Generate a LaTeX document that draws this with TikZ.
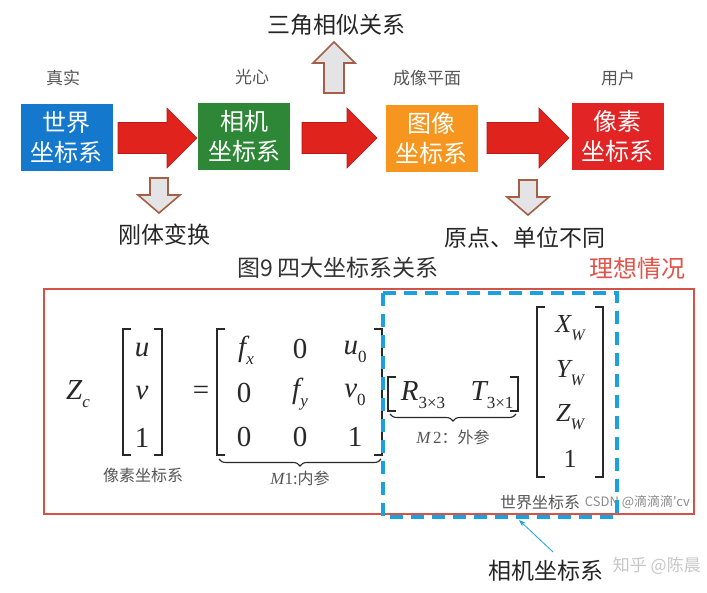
\documentclass[tikz,border=0pt]{standalone}
\usepackage{fontspec}
\newfontfamily\cjk{Noto Sans CJK SC}
\newfontfamily\tnr{Liberation Serif}
\usetikzlibrary{calc,decorations.pathreplacing,arrows.meta}
\definecolor{boxblue}{RGB}{20,120,205}
\definecolor{boxgreen}{RGB}{45,135,55}
\definecolor{boxorange}{RGB}{246,150,30}
\definecolor{boxred}{RGB}{226,36,36}
\definecolor{arrred}{RGB}{225,35,30}
\definecolor{arredge}{RGB}{180,28,25}
\definecolor{hollowedge}{RGB}{165,95,70}
\definecolor{hollowfill}{RGB}{228,228,230}
\definecolor{framered}{RGB}{214,82,70}
\definecolor{dashblue}{RGB}{27,162,222}
\definecolor{idealred}{RGB}{224,84,74}
\definecolor{notegray}{RGB}{85,85,85}
\definecolor{mathgray}{RGB}{40,40,40}
\newcommand{\fsz}[1]{\fontsize{#1}{#1}\selectfont}
\newcommand{\msub}[2]{{#1}\raisebox{-0.28em}{\fsz{17}#2}}
\newcommand{\wsub}[2]{{#1}\raisebox{-0.28em}{\fsz{16}#2}}
\newcommand{\redarrow}[3]{% start x, tip x, centre y
  \filldraw[arrred, draw=arredge, line width=0.6pt]
    (#1,#3-15.5) -- (#2-30,#3-15.5) -- (#2-30,#3-30) -- (#2,#3)
    -- (#2-30,#3+30) -- (#2-30,#3+15.5) -- (#1,#3+15.5) -- cycle;}
\newcommand{\downhollow}[3]{% centre x, top y, tip y
  \filldraw[fill=hollowfill, draw=hollowedge, line width=1.6pt, line join=miter]
    (#1-9,#2) -- (#1+9,#2) -- (#1+9,#3-18) -- (#1+21,#3-18) -- (#1,#3)
    -- (#1-21,#3-18) -- (#1-9,#3-18) -- cycle;}
\newcommand{\uphollow}[3]{% centre x, bottom y, tip y
  \filldraw[fill=hollowfill, draw=hollowedge, line width=1.6pt, line join=miter]
    (#1-10,#2) -- (#1+10,#2) -- (#1+10,#3+21) -- (#1+21,#3+21) -- (#1,#3)
    -- (#1-21,#3+21) -- (#1-10,#3+21) -- cycle;}
\newcommand{\mbrk}[4]{% left x, right x, top y, bottom y
  \draw[brk] (#1+8,#3) -- (#1,#3) -- (#1,#4) -- (#1+8,#4);
  \draw[brk] (#2-8,#3) -- (#2,#3) -- (#2,#4) -- (#2-8,#4);}
\begin{document}
\begin{tikzpicture}[x=1pt,y=-1pt,
  cbox/.style={minimum width=92pt, minimum height=67pt, inner sep=0pt,
    text=white, align=center, font=\cjk\fontsize{24}{30}\selectfont},
  toplabel/.style={text=notegray, font=\cjk\fsz{17}, inner sep=0pt},
  bigtext/.style={text=black!85, font=\cjk\fsz{23}, inner sep=0pt},
  mathent/.style={text=mathgray, font=\tnr\fsz{29}, inner sep=0pt},
  wmath/.style={text=mathgray, font=\tnr\fsz{26}, inner sep=0pt},
  note/.style={text=notegray, font=\cjk\fsz{16}, inner sep=0pt},
  brk/.style={draw=mathgray, line width=1.5pt},
  brc/.style={draw=mathgray, line width=1.1pt, decorate,
    decoration={brace, mirror, amplitude=7pt}},
  wmark/.style={text=black!45, font=\cjk\fsz{13}, inner sep=0pt}]
\useasboundingbox (0,0) rectangle (707,592);
\fill[white] (0,0) rectangle (707,592);

% ---- top row ----
\node[text=black!85, font=\cjk\fsz{23}, inner sep=0pt] (tri) at (336,25) {三角相似关系};
\uphollow{334}{93}{42}

\node[toplabel] (l1) at (63,78) {真实};
\node[toplabel] (l2) at (252,77) {光心};
\node[toplabel] (l3) at (427,78) {成像平面};
\node[toplabel] (l4) at (618,78) {用户};

\node[cbox, fill=boxblue] (b1) at (66.5,137) {世界\\坐标系};
\node[cbox, fill=boxgreen] (b2) at (244,136.5) {相机\\坐标系};
\node[cbox, fill=boxorange] (b3) at (431.5,138) {图像\\坐标系};
\node[cbox, fill=boxred] (b4) at (617.5,136.5) {像素\\坐标系};

\redarrow{118}{197}{138}
\redarrow{302}{377}{138}
\redarrow{487}{569}{138}

\downhollow{159}{178}{213}
\downhollow{528}{180}{215}

\node[bigtext] (rigid) at (164,235) {刚体变换};
\node[bigtext] (orig) at (525,238) {原点、单位不同};

\node[text=black!80, font=\cjk\fsz{23}, inner sep=0pt] (cap) at (338,268) {图9 四大坐标系关系};
\node[text=idealred, font=\cjk\fsz{24}, inner sep=0pt] (ideal) at (637,268) {理想情况};

% ---- frames ----
\draw[framered, line width=2pt] (43.5,288.5) rectangle (693.5,514);

% ---- equation ----
\node[mathent] (zc) at (78,394) {\msub{\itshape Z}{\itshape c}};
\mbrk{123}{162}{329}{455}
\node[mathent] (u) at (142,350) {\itshape u};
\node[mathent] (v) at (142,393) {\itshape v};
\node[mathent] (one) at (142,438) {1};
\node[mathent] (eq) at (201,393) {=};

\mbrk{217}{382}{329}{455}
\node[mathent] (fx) at (246,350) {\msub{\itshape f}{\itshape x}};
\node[mathent] (m12) at (300,349) {0};
\node[mathent] (u0) at (355,352) {\msub{\itshape u}{0}};
\node[mathent] (m21) at (244,393) {0};
\node[mathent] (fy) at (300,394) {\msub{\itshape f}{\itshape y}};
\node[mathent] (v0) at (355,395) {\msub{\itshape v}{0}};
\node[mathent] (m31) at (244,437) {0};
\node[mathent] (m32) at (300,437) {0};
\node[mathent] (m33) at (355,437) {1};
\draw[brc] (219,459) -- (381,459);
\node[note] (m1) at (300,478) {{\tnr\itshape\fsz{17}M}{\tnr\fsz{17}1}:内参};

\mbrk{388}{518}{377}{411}
\node[mathent] (r) at (423,395) {\msub{\itshape R}{3×3}};
\node[mathent] (t) at (492,395) {\msub{\itshape T}{3×1}};
\draw[brc] (390,414) -- (516,414);
\node[note] (m2) at (453,437) {{\tnr\itshape\fsz{17}M}\,{\tnr\fsz{17}2}：外参};

\mbrk{537}{603}{307}{477}
\node[wmath] (xw) at (570,328) {\wsub{\itshape X}{\itshape W}};
\node[wmath] (yw) at (570,373) {\wsub{\itshape Y}{\itshape W}};
\node[wmath] (zw) at (570,417) {\wsub{\itshape Z}{\itshape W}};
\node[wmath] (w1) at (570,459) {1};

\node[note] (pix) at (143,475) {像素坐标系};
\node[note] (world) at (540,502) {世界坐标系};
\node[wmark, anchor=east] (csdn) at (690,502) {CSDN @滴滴滴'cv};

\draw[dashblue, line width=4pt, dash pattern=on 13pt off 8pt] (383,293) rectangle (617,517);
\coordinate (dashbot) at (519,520);

% ---- camera label ----
\node[text=black!85, font=\cjk\fsz{23}, inner sep=0pt] (cam) at (546,571) {相机坐标系};
\draw[dashblue, line width=0.8pt, -{Stealth[length=7pt,width=5pt]}] (553,552) -- (dashbot);
\node[text=black!22, font=\cjk\fsz{17}, inner sep=0pt, anchor=east] (zh) at (701,566) {知乎 @陈晨};
\end{tikzpicture}
\end{document}
